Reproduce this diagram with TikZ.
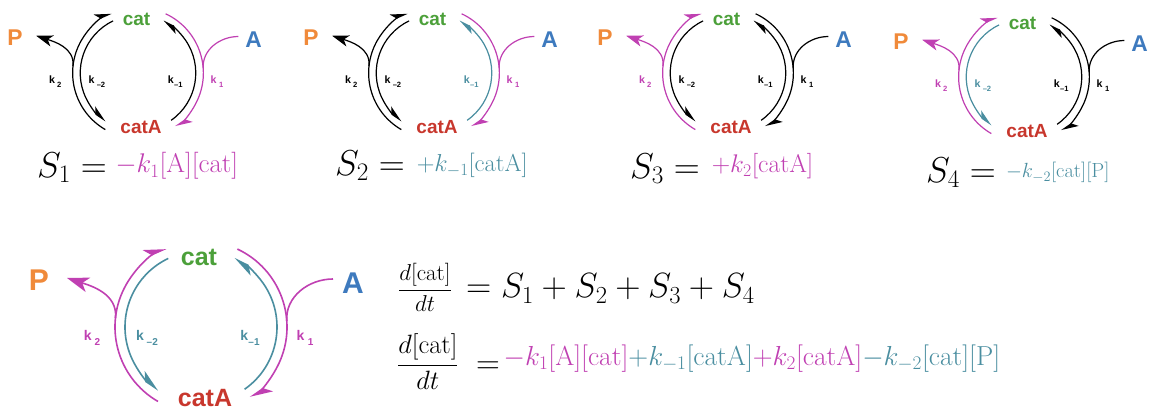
\RequirePackage{fix-cm}
\documentclass[tikz,border=0pt]{standalone}
\usepackage{fontspec}
\newfontfamily\dsf{Liberation Sans}
\usetikzlibrary{arrows.meta}
\definecolor{mag}{RGB}{192,64,178}
\definecolor{tea}{RGB}{74,142,160}
\definecolor{cgreen}{RGB}{76,160,58}
\definecolor{cred}{RGB}{200,55,45}
\definecolor{corange}{RGB}{240,138,58}
\definecolor{cblue}{RGB}{62,122,190}
\tikzset{
  harp/.style={-{Stealth[harpoon,length=\al pt,width=\aw pt,inset=\ai pt]}},
  parr/.style={-{Stealth[length=\pl pt,width=\pw pt,inset=\pin pt]}},
  txt/.style={inner sep=0pt},
  spc/.style={txt, font=\dsf\bfseries\fontsize{\fc}{\fc}\selectfont},
  spb/.style={txt, font=\dsf\bfseries\fontsize{\fp}{\fp}\selectfont},
  klab/.style={txt, font=\dsf\bfseries\fontsize{\fk}{\fk}\selectfont},
  eqn/.style={inner sep=0pt, anchor=base west}
}
\newcommand\kl[2]{k\hspace{#2}\raisebox{-0.35em}{\fontsize{\fks}{\fks}\selectfont #1}}
\newcommand\drawcyc[8]{%
  \pgfmathsetmacro\fc{25*#4}%
  \pgfmathsetmacro\fp{30*#4}%
  \pgfmathsetmacro\fk{14*#4}%
  \pgfmathsetmacro\fks{10*#4}%
  \pgfmathsetmacro\lw{1.6*#4}%
  \pgfmathsetmacro\al{20*#4}%
  \pgfmathsetmacro\aw{16*#4}%
  \pgfmathsetmacro\ai{6*#4}%
  \pgfmathsetmacro\pl{22*#4}%
  \pgfmathsetmacro\pw{15*#4}%
  \pgfmathsetmacro\pin{6*#4}%
  \begin{scope}[shift={(#2,#3)}, scale=#4, line width=\lw pt]
    \coordinate (#1o) at (0,0);
    \node[spc, text=cgreen] (#1cat) at (-2,70) {cat};
    \node[spc, text=cred] (#1catA) at (4,-71.5) {catA};
    \node[spb, text=corange] (#1P) at (-162,47) {P};
    \node[spb, text=cblue] (#1A) at (152,44) {A};
    \node[klab, text=#7] (#1k2) at (-109,-11) {\kl{2}{0.2em}};
    \node[klab, text=#8] (#1km2) at (-54,-11) {\kl{\textendash2}{0.2em}};
    \node[klab, text=#6] (#1km1) at (49,-11) {\kl{\textendash1}{0.02em}};
    \node[klab, text=#5] (#1k1) at (104,-11) {\kl{1}{0.25em}};
    % arc end points
    \coordinate (#1olb) at (240:86);
    \coordinate (#1ilt) at (115.5:76);
    \coordinate (#1ort) at (65:86);
    \coordinate (#1irb) at (-55:76);
    \coordinate (#1pb) at (174:86);
    \coordinate (#1Pt) at (-134,49);
    \coordinate (#1As) at (132,48);
    \coordinate (#1ab) at (4:86);
    % k2 : catA -> cat (outer left) and branch to P
    \draw[#7, harp] (#1olb) arc[start angle=240, end angle=114, radius=86];
    \draw[#7, parr] (#1pb) to[out=84, in=-18] (#1Pt);
    % k-2 : cat -> catA (inner left)
    \draw[#8, harp] (#1ilt) arc[start angle=115.5, end angle=236, radius=76];
    % k1 : cat -> catA (outer right) with A joining
    \draw[#5, harp] (#1ort) arc[start angle=65, end angle=-55, radius=86];
    \draw[#5] (#1As) to[out=180, in=94] (#1ab);
    % k-1 : catA -> cat (inner right)
    \draw[#6, harp] (#1irb) arc[start angle=-55, end angle=64, radius=76];
  \end{scope}}
\begin{document}
\begin{tikzpicture}[x=1pt,y=1pt]
\useasboundingbox (0,0) rectangle (1149,410);
\drawcyc{a}{138}{337}{0.76}{mag}{black}{black}{black}
\drawcyc{b}{434}{337}{0.76}{mag}{tea}{black}{black}
\drawcyc{c}{728}{337}{0.76}{black}{black}{mag}{black}
\drawcyc{d}{1024}{333}{0.76}{black}{black}{mag}{tea}
\drawcyc{e}{201}{83}{1}{mag}{tea}{mag}{tea}
% panel formulas
\node[eqn, font=\fontsize{36}{42}\selectfont] (s1) at (37,232.5) {$S_1=$};
\node[eqn, text=mag, font=\fontsize{27}{32}\selectfont] (r1) at (115.5,237) {$-k_1[\mathrm{A}][\mathrm{cat}]$};
\node[eqn, font=\fontsize{36}{42}\selectfont] (s2) at (335,234.5) {$S_2=$};
\node[eqn, text=tea, font=\fontsize{24.5}{29}\selectfont] (r2) at (416.6,238.5) {$+k_{-1}[\mathrm{catA}]$};
\node[eqn, font=\fontsize{36}{42}\selectfont] (s3) at (630,231.5) {$S_3=$};
\node[eqn, text=mag, font=\fontsize{25.5}{30}\selectfont] (r3) at (711.6,237.5) {$+k_2[\mathrm{catA}]$};
\node[eqn, font=\fontsize{36}{42}\selectfont] (s4) at (926,227.5) {$S_4=$};
\node[eqn, text=tea, font=\fontsize{20.5}{25}\selectfont] (r4) at (1005.8,232) {$-k_{-2}[\mathrm{cat}][\mathrm{P}]$};
% bottom equations
\node[eqn, font=\fontsize{23}{28}\selectfont] (f1) at (398,114.25) {$\displaystyle\frac{d[\mathrm{cat}]}{dt}$};
\node[eqn, font=\fontsize{35}{42}\selectfont] (e1) at (466,112) {$=S_1+S_2+S_3+S_4$};
\node[eqn, font=\fontsize{26.5}{32}\selectfont] (f2) at (397,38.4) {$\displaystyle\frac{d[\mathrm{cat}]}{dt}$};
\node[eqn, font=\fontsize{33}{40}\selectfont] (q2) at (476,37) {$=$};
\node[eqn, font=\fontsize{27.5}{33}\selectfont] (e2) at (503.5,45) {$\color{mag}{-}k_1[\mathrm{A}][\mathrm{cat}]\color{tea}{+}k_{-1}[\mathrm{catA}]\color{mag}{+}k_2[\mathrm{catA}]\color{tea}{-}k_{-2}[\mathrm{cat}][\mathrm{P}]$};
\end{tikzpicture}
\end{document}
